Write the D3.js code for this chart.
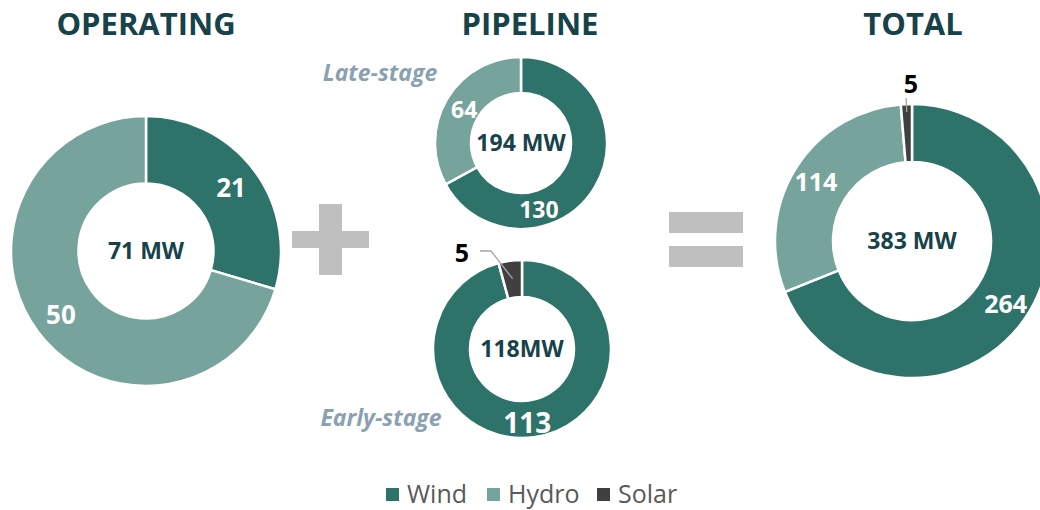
<!DOCTYPE html>
<html><head><meta charset="utf-8">
<script src="https://cdn.jsdelivr.net/npm/d3@7"></script>
<style>body{margin:0;background:#fff;}svg{display:block;font-family:"Open Sans",sans-serif;}</style>
</head><body><svg id="c" width="1040" height="510"></svg>
<script>
const categories = ["Wind", "Hydro", "Solar"];
const colors = ["#2e7369", "#76a39b", "#404040"];
const operating = [21, 50, 0];
const lateStage = [130, 64, 0];
const earlyStage = [113, 0, 5];
const total = [264, 114, 5];
const centerLabels = ["71 MW", "194 MW", "118MW", "383 MW"];
const titles = ["OPERATING", "PIPELINE", "TOTAL"];
const stageLabels = ["Late-stage", "Early-stage"];

const svg = d3.select("#c");
const pie = d3.pie().sort(null).value(d => d);

const charts = [
  {data: operating, cx: 146, cy: 251, r: 135, ir: 67.5, center: centerLabels[0], lab: [{}, {}, null], fs: 26},
  {data: lateStage, cx: 521, cy: 143, r: 86, ir: 50, center: centerLabels[1], lab: [{angle: 165, rad: 69}, {rad: 66}, null], fs: 23},
  {data: earlyStage, cx: 522, cy: 349, r: 89, ir: 52, center: centerLabels[2], lab: [{angle: 176, rad: 74, fs: 28}, null, {outside: true}], fs: 22},
  {data: total, cx: 912, cy: 241, r: 137, ir: 79, center: centerLabels[3], lab: [{}, {}, {outside: true}], fs: 25}
];

charts.forEach((c, ci) => {
  const g = svg.append("g").attr("transform", `translate(${c.cx},${c.cy})`);
  const arcs = pie(c.data);
  const arc = d3.arc().innerRadius(c.ir).outerRadius(c.r);
  g.selectAll("path").data(arcs.filter(a => a.value > 0)).enter().append("path")
    .attr("d", arc)
    .attr("fill", d => colors[d.index])
    .attr("stroke", "#fff").attr("stroke-width", 2.5).attr("stroke-linejoin", "miter");
  g.append("text").text(c.center)
    .attr("text-anchor", "middle").attr("dy", "0.35em")
    .attr("font-weight", 700).attr("font-size", 23).attr("fill", "#17424a");
  arcs.forEach((a, i) => {
    const cfg = c.lab[i];
    if (!cfg || a.value === 0) return;
    if (cfg.outside) return;
    const rad = cfg.rad != null ? cfg.rad : (c.r + c.ir) / 2 + 5;
    const ang = cfg.angle != null ? cfg.angle * Math.PI / 180 : (a.startAngle + a.endAngle) / 2;
    const x = Math.sin(ang) * rad, y = -Math.cos(ang) * rad;
    g.append("text").text(a.value)
      .attr("x", x).attr("y", y).attr("text-anchor", "middle").attr("dy", "0.36em")
      .attr("font-weight", 700).attr("font-size", cfg.fs || c.fs).attr("fill", "#fff");
  });
});

// Outside labels with leader lines
(function(){
  const c = charts[2];
  const a = pie(c.data)[2];
  const mid = (a.startAngle + a.endAngle) / 2;
  const rr = c.r - 18;
  const px = c.cx + Math.sin(mid) * rr, py = c.cy - Math.cos(mid) * rr;
  svg.append("polyline")
    .attr("points", `${c.cx - 42},${c.cy - 98} ${c.cx - 31},${c.cy - 98} ${px},${py}`)
    .attr("fill", "none").attr("stroke", "#a6a6a6").attr("stroke-width", 1.3);
  svg.append("text").text(a.value).attr("x", c.cx - 60).attr("y", c.cy - 96).attr("text-anchor", "middle").attr("dy", "0.36em")
    .attr("font-weight", 700).attr("font-size", 25).attr("fill", "#000");
})();
(function(){
  const c = charts[3];
  const a = pie(c.data)[2];
  const mid = (a.startAngle + a.endAngle) / 2;
  const px = c.cx + Math.sin(mid) * (c.r - 8), py = c.cy - Math.cos(mid) * (c.r - 8);
  const qx = c.cx + Math.sin(mid) * (c.r + 6), qy = c.cy - Math.cos(mid) * (c.r + 6);
  svg.append("line").attr("x1", qx).attr("y1", qy).attr("x2", px).attr("y2", py)
    .attr("stroke", "#a6a6a6").attr("stroke-width", 1.3);
  svg.append("text").text(a.value).attr("x", c.cx - 1).attr("y", c.cy - 157).attr("text-anchor", "middle").attr("dy", "0.36em")
    .attr("font-weight", 700).attr("font-size", 25).attr("fill", "#000");
})();

// Titles
const titleX = [146, 530, 913];
titles.forEach((t, i) => {
  svg.append("text").text(t).attr("x", titleX[i]).attr("y", 35).attr("text-anchor", "middle")
    .attr("font-weight", 700).attr("font-size", 31).attr("fill", "#17424a");
});

// Stage labels
svg.append("text").text(stageLabels[0]).attr("x", 380).attr("y", 81).attr("text-anchor", "middle")
  .attr("font-weight", 700).attr("font-style", "italic").attr("font-size", 23).attr("fill", "#8aa1b2");
svg.append("text").text(stageLabels[1]).attr("x", 381).attr("y", 426).attr("text-anchor", "middle")
  .attr("font-weight", 700).attr("font-style", "italic").attr("font-size", 23).attr("fill", "#8aa1b2");

// Plus and equals signs
const signFill = "#bfbfbf";
svg.append("rect").attr("x", 319).attr("y", 204).attr("width", 23).attr("height", 71).attr("fill", signFill);
svg.append("rect").attr("x", 292).attr("y", 231).attr("width", 77).attr("height", 17).attr("fill", signFill);
svg.append("rect").attr("x", 669).attr("y", 212).attr("width", 74).attr("height", 21).attr("fill", signFill);
svg.append("rect").attr("x", 669).attr("y", 246).attr("width", 74).attr("height", 21).attr("fill", signFill);

// Legend
const legendX = [386, 487, 597];
categories.forEach((cat, i) => {
  svg.append("rect").attr("x", legendX[i]).attr("y", 488).attr("width", 13).attr("height", 13).attr("fill", colors[i]);
  svg.append("text").text(cat).attr("x", legendX[i] + 21).attr("y", 494).attr("dy", "0.35em")
    .attr("font-size", 25).attr("fill", "#595959");
});
</script></body></html>
